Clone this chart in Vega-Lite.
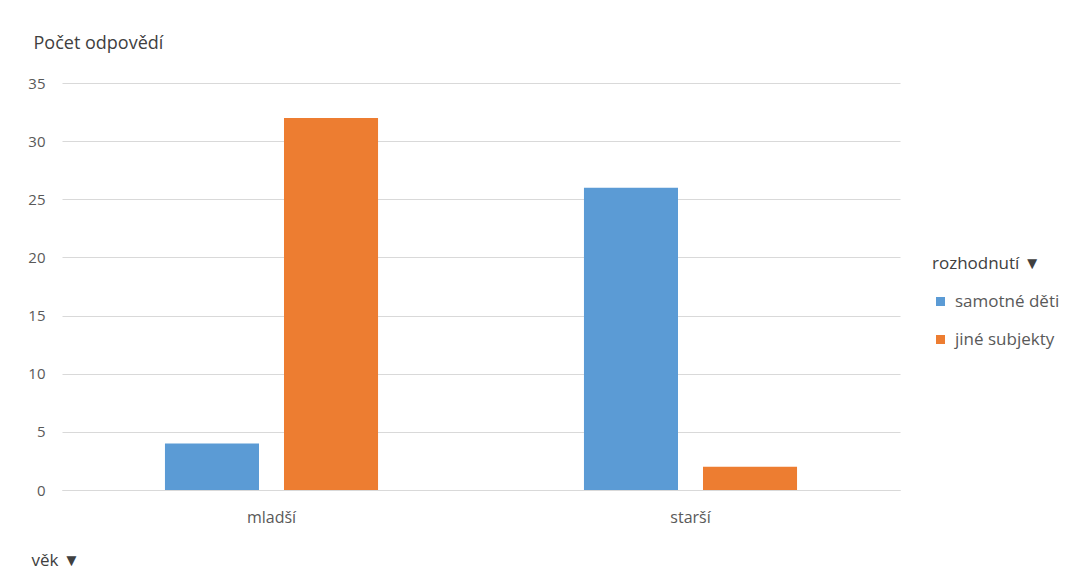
{
  "$schema": "https://vega.github.io/schema/vega-lite/v6.json",
  "autosize": {"type": "none"},
  "width": 838,
  "height": 407,
  "padding": {"left": 62, "top": 83, "right": 179, "bottom": 93},
  "background": "white",
  "data": {"values": [
    {"vek": "mladší", "rozhodnuti": "samotné děti", "pocet": 4},
    {"vek": "mladší", "rozhodnuti": "jiné subjekty", "pocet": 32},
    {"vek": "starší", "rozhodnuti": "samotné děti", "pocet": 26},
    {"vek": "starší", "rozhodnuti": "jiné subjekty", "pocet": 2}
  ]},
  "mark": {"type": "bar"},
  "encoding": {
    "x": {
      "field": "vek", "type": "nominal", "sort": ["mladší", "starší"],
      "scale": {"paddingInner": 0, "paddingOuter": 0},
      "axis": {
        "title": "věk  ▼", "labelAngle": 0, "tickSize": 0, "labelPadding": 19,
        "domainColor": "#D9D9D9", "domainWidth": 1,
        "titleX": -31, "titleY": 70, "titleAlign": "left", "titleBaseline": "middle",
        "titleFontWeight": "normal", "titleColor": "#404040", "titleFontSize": 17
      }
    },
    "xOffset": {
      "field": "rozhodnuti", "type": "nominal", "sort": ["samotné děti", "jiné subjekty"],
      "scale": {"paddingInner": 0.21, "paddingOuter": 0.865}
    },
    "y": {
      "field": "pocet", "type": "quantitative",
      "scale": {"domain": [0, 35], "nice": false},
      "axis": {
        "title": "Počet odpovědí", "values": [0, 5, 10, 15, 20, 25, 30, 35],
        "tickSize": 0, "labelPadding": 17, "domain": false,
        "gridColor": "#D9D9D9", "gridWidth": 1,
        "titleAngle": 0, "titleX": -29, "titleY": -40, "titleAlign": "left", "titleBaseline": "middle",
        "titleFontWeight": "normal", "titleColor": "#404040", "titleFontSize": 18
      }
    },
    "color": {
      "field": "rozhodnuti", "type": "nominal", "sort": ["samotné děti", "jiné subjekty"],
      "scale": {"domain": ["samotné děti", "jiné subjekty"], "range": ["#5B9BD5", "#ED7D31"]},
      "legend": {
        "title": "rozhodnutí  ▼", "orient": "none", "legendX": 870, "legendY": 173,
        "symbolType": "square", "symbolSize": 81, "symbolStrokeWidth": 0,
        "rowPadding": 20, "titlePadding": 20, "labelOffset": 6,
        "labelFontSize": 17,
        "titleFontWeight": "normal", "titleColor": "#404040", "titleFontSize": 17
      }
    }
  },
  "config": {
    "font": "Open Sans",
    "view": {"stroke": null},
    "axis": {"labelFont": "Open Sans", "labelFontSize": 15, "labelColor": "#595959", "titleFont": "Open Sans"},
    "axisX": {"labelFontSize": 16},
    "legend": {"labelFont": "Open Sans", "labelColor": "#595959", "titleFont": "Open Sans"}
  }
}
